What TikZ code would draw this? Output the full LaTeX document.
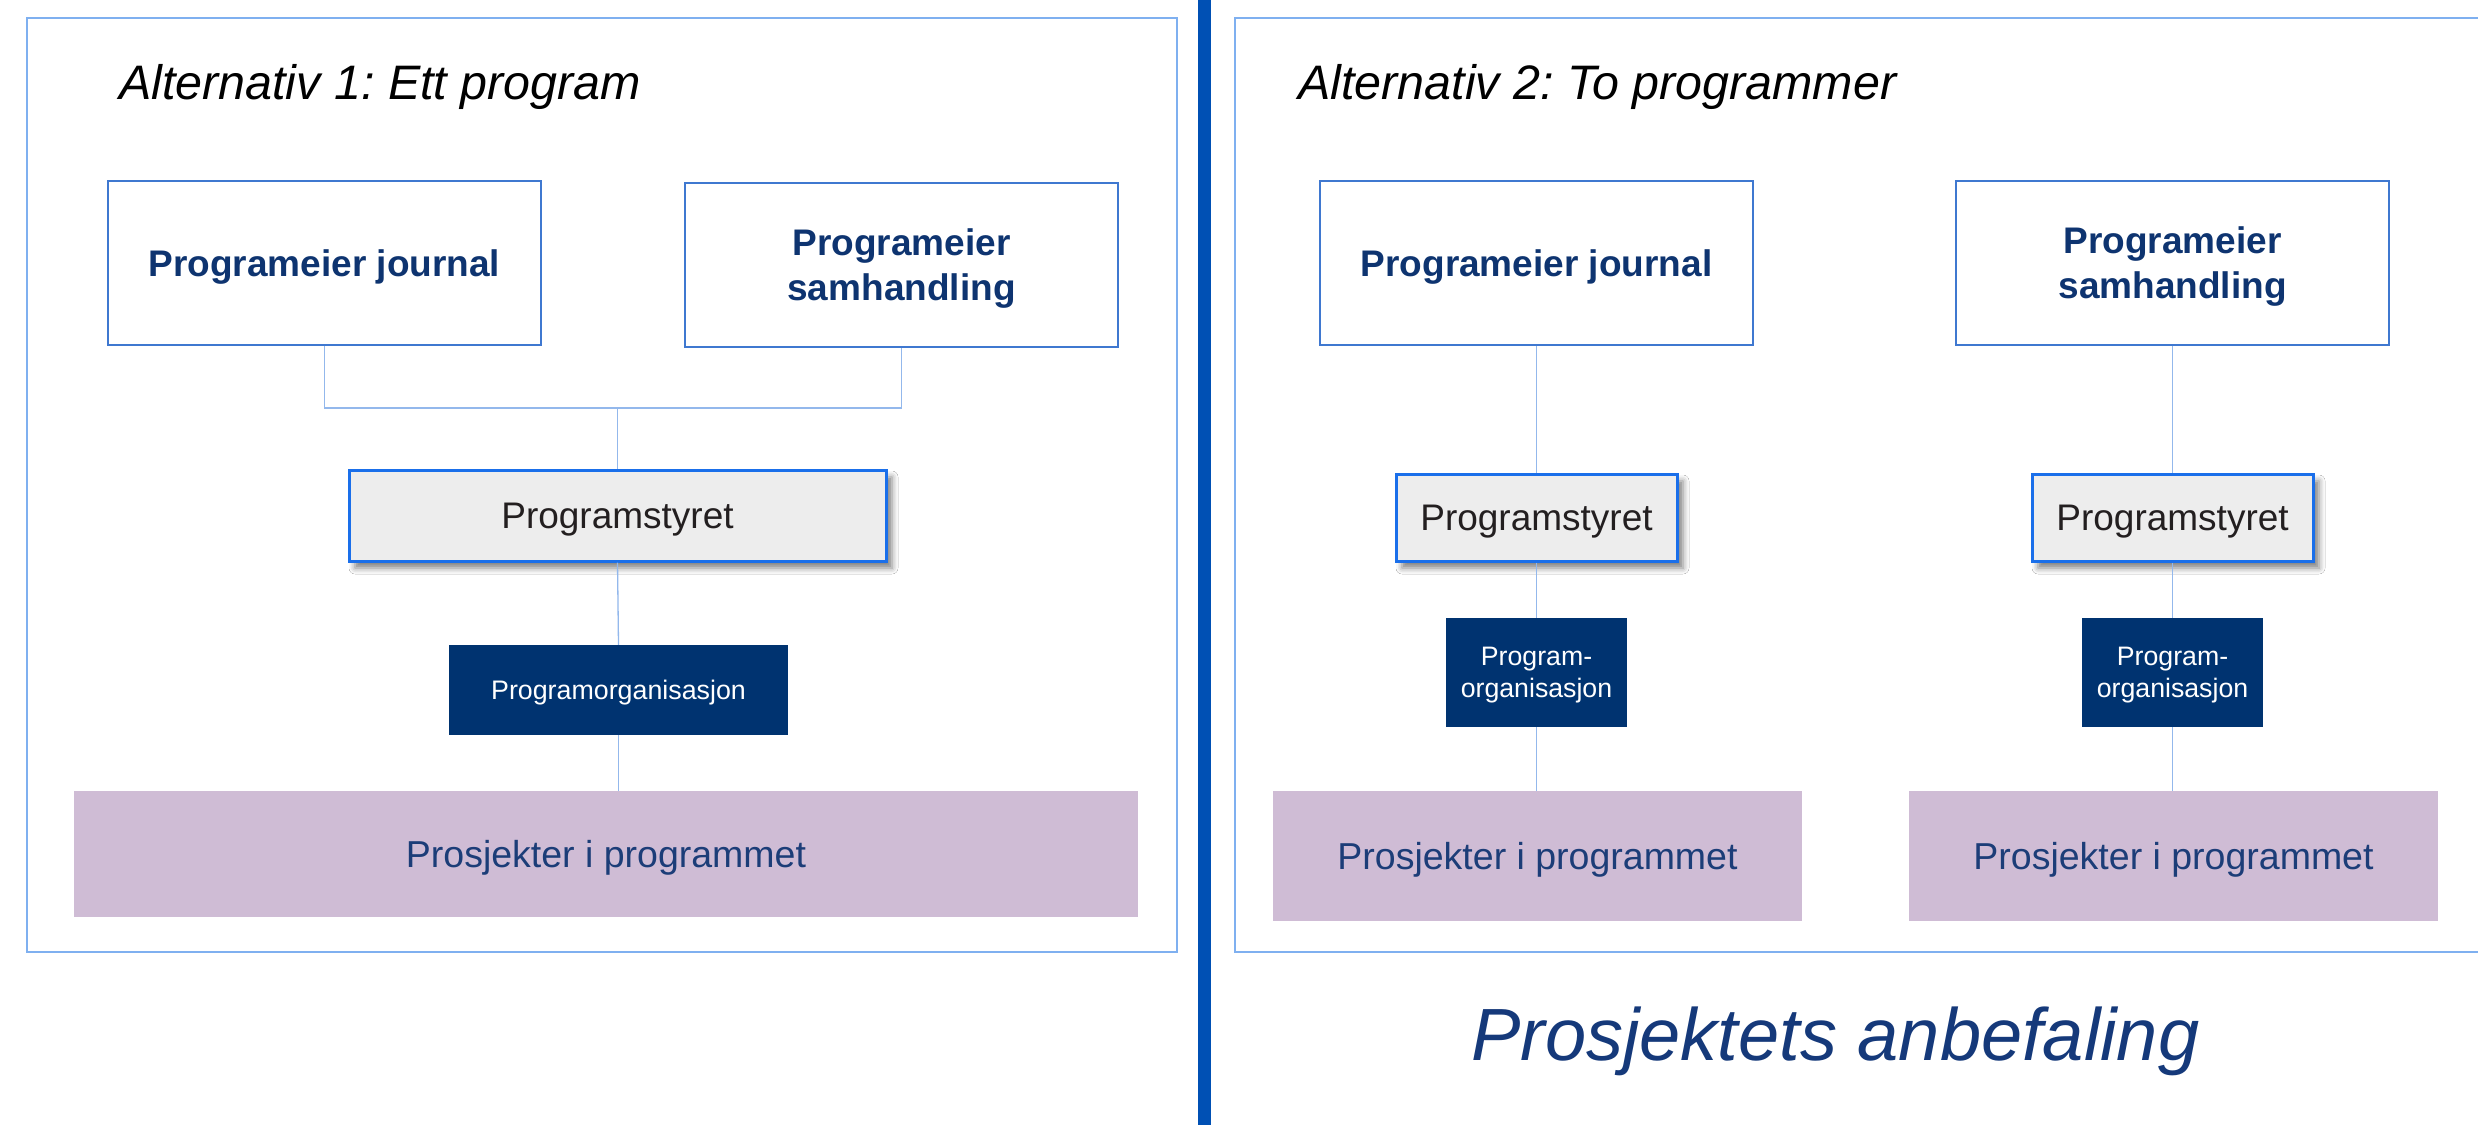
\documentclass[tikz,border=0pt]{standalone}
\usepackage{fontspec}
\setmainfont{Liberation Sans}
\usetikzlibrary{shadows.blur}
\frenchspacing

\definecolor{framecol}{HTML}{7FB0F0}
\definecolor{linkcol}{HTML}{93B8EC}
\definecolor{ownertxt}{HTML}{0E3470}
\definecolor{ownerline}{HTML}{3F78D0}
\definecolor{boardfill}{HTML}{EDEDED}
\definecolor{boardline}{HTML}{1A6FEA}
\definecolor{boardtxt}{HTML}{231F20}
\definecolor{orgfill}{HTML}{003370}
\definecolor{projfill}{HTML}{CFBCD5}
\definecolor{projtxt}{HTML}{1C3D78}
\definecolor{barcol}{HTML}{0050B4}
\definecolor{recotxt}{HTML}{15397A}

\tikzset{
  panel/.style={draw=framecol, line width=2pt},
  link/.style={draw=linkcol, line width=1.3pt},
  boxtext/.style={text depth=0pt, inner sep=0pt},
  owner/.style={boxtext, draw=ownerline, line width=1.5pt, fill=white, text=ownertxt,
    font=\fontsize{37}{45}\selectfont\bfseries, align=center,
    minimum width=433pt, minimum height=164pt},
  board/.style={boxtext, draw=boardline, line width=3pt, fill=boardfill, text=boardtxt,
    font=\fontsize{37}{45}\selectfont,
    blur shadow={shadow xshift=6pt, shadow yshift=-7pt, shadow blur radius=6pt, shadow opacity=50}},
  org/.style={boxtext, fill=orgfill, text=white, align=center},
  proj/.style={boxtext, fill=projfill, text=projtxt, font=\fontsize{37.5}{45}\selectfont},
  heading/.style={anchor=base west, inner sep=0pt, font=\fontsize{48.4}{58}\selectfont\itshape}
}

\begin{document}
\begin{tikzpicture}[x=1pt, y=-1pt]
  \clip (0,0) rectangle (2478,1125);
  \fill[white] (0,0) rectangle (2478,1125);

  % panel frames and the dividing bar
  \draw[panel] (27,17.5) rectangle (1177,952);
  \draw[panel] (1235,17.5) rectangle (2500,952);
  \fill[barcol] (1198,0) rectangle (1211,1125);

  % headings
  \node[heading] (h1) at (119,99) {Alternativ 1: Ett program};
  \node[heading] (h2) at (1298,99) {Alternativ 2: To programmer};
  \node[anchor=base west, inner sep=0pt, text=recotxt,
        font=\fontsize{74}{88}\selectfont\itshape] (reco) at (1471,1060) {Prosjektets anbefaling};

  % ---- Alternative 1: one programme ----
  \node[owner] (j1) at (324.5,263) {Programeier journal};
  \node[owner] (s1) at (901.5,265) {Programeier\\samhandling};
  \node[board, minimum width=537pt, minimum height=91pt] (b1) at (617.5,515.5) {Programstyret};
  \node[org, minimum width=339pt, minimum height=90pt,
        font=\fontsize{26.8}{32}\selectfont] (o1) at (618.5,690) {Programorganisasjon};
  \node[proj, minimum width=1064pt, minimum height=126pt] (p1) at (606,854) {Prosjekter i programmet};
  \coordinate (m1) at (617.5,408);

  \draw[link] (j1.south) |- (m1) -| (s1.south);
  \draw[link] (m1) -- (b1.north);
  \draw[link] (b1.south) -- (o1.north);
  \draw[link] (o1.south) -- (o1.south |- p1.north);

  % ---- Alternative 2: two programmes ----
  \node[owner] (j2) at (1536.5,263) {Programeier journal};
  \node[owner] (s2) at (2172.5,263) {Programeier\\samhandling};

  \node[board, minimum width=281pt, minimum height=87pt] (b2) at (1536.5,517.5) {Programstyret};
  \node[board, minimum width=281pt, minimum height=87pt] (b3) at (2172.5,517.5) {Programstyret};

  \node[org, minimum width=181pt, minimum height=109pt,
        font=\fontsize{26.7}{31.5}\selectfont] (o2) at (1536.5,672.5) {Program-\\organisasjon};
  \node[org, minimum width=181pt, minimum height=109pt,
        font=\fontsize{26.7}{31.5}\selectfont] (o3) at (2172.5,672.5) {Program-\\organisasjon};

  \node[proj, minimum width=529pt, minimum height=130pt] (p2) at (1537.5,856) {Prosjekter i programmet};
  \node[proj, minimum width=529pt, minimum height=130pt] (p3) at (2173.5,856) {Prosjekter i programmet};

  \draw[link] (j2.south) -- (b2.north);
  \draw[link] (b2.south) -- (o2.north);
  \draw[link] (o2.south) -- (o2.south |- p2.north);
  \draw[link] (s2.south) -- (b3.north);
  \draw[link] (b3.south) -- (o3.north);
  \draw[link] (o3.south) -- (o3.south |- p3.north);
\end{tikzpicture}
\end{document}
